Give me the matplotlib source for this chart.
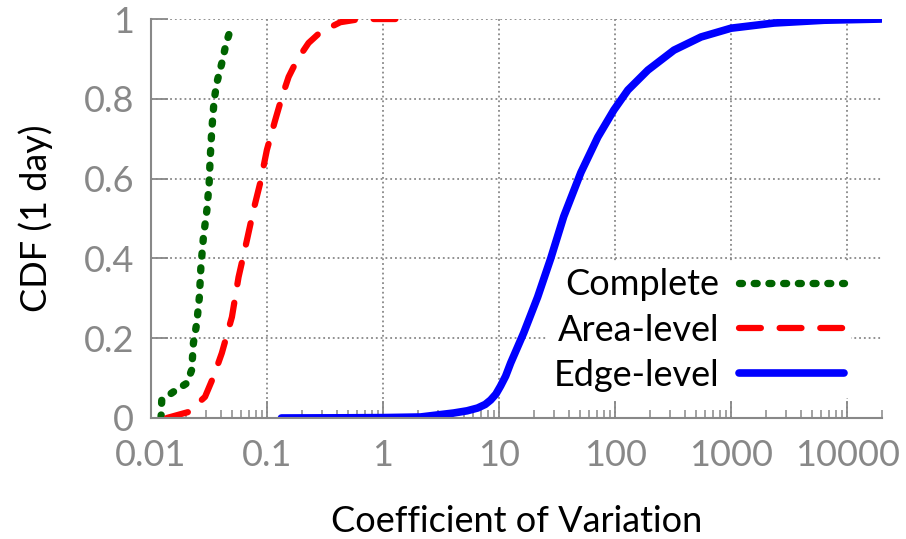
import numpy as np
import matplotlib.pyplot as plt

plt.rcParams['font.family'] = ['Lato', 'DejaVu Sans']

# CDF curves (x = coefficient of variation, y = CDF)
complete_x = [0.0122, 0.01237, 0.0155, 0.0203, 0.0224, 0.0232, 0.0248, 0.0261, 0.0269, 0.0283,
              0.0303, 0.0317, 0.0323, 0.0334, 0.0350, 0.0369, 0.0408, 0.0445, 0.0488]
complete_y = [0.0, 0.045, 0.065, 0.087, 0.12, 0.188, 0.238, 0.303, 0.378, 0.454,
              0.521, 0.589, 0.647, 0.722, 0.797, 0.84, 0.89, 0.94, 0.977]

area_x = [0.01367, 0.0210, 0.0292, 0.0345, 0.0408, 0.0498, 0.0568, 0.0671, 0.0764, 0.0873,
          0.0997, 0.1177, 0.1345, 0.1535, 0.1813, 0.228, 0.288, 0.428, 0.638, 1.51]
area_y = [0.0, 0.015, 0.053, 0.103, 0.163, 0.253, 0.353, 0.446, 0.521, 0.589,
          0.672, 0.747, 0.805, 0.855, 0.897, 0.94, 0.967, 0.992, 1.0, 1.0]

edge_x = [0.133, 0.5, 1.0, 2.10, 4.06, 5.3, 6.53, 7.6, 8.46, 9.4, 10.3, 11.4, 12.6, 16.3,
          21.5, 27.9, 36.1, 50.7, 71.0, 97.7, 129, 192, 322, 551, 1000, 2350, 6350, 19700]
edge_y = [0.0, 0.0005, 0.001, 0.0025, 0.0125, 0.018, 0.025, 0.034, 0.045, 0.06, 0.08, 0.105,
          0.138, 0.213, 0.303, 0.40, 0.505, 0.615, 0.704, 0.772, 0.822, 0.872, 0.922, 0.955,
          0.977, 0.99, 0.997, 1.0]

x_ticks = [0.01, 0.1, 1, 10, 100, 1000, 10000]
x_labels = ['0.01', '0.1', '1', '10', '100', '1000', '10000']
y_ticks = [0, 0.2, 0.4, 0.6, 0.8, 1]
y_labels = ['0', '0.2', '0.4', '0.6', '0.8', '1']

gray = '#888888'

fig = plt.figure(figsize=(9.06, 5.39), dpi=100)
ax = fig.add_axes([0.1667, 0.2245, 0.8068, 0.7402])

ax.plot(complete_x, complete_y, color='#006400', lw=5.3, linestyle=(0, (0.4, 1.6)),
        dash_capstyle='round', label='Complete')
ax.plot(area_x, area_y, color='#ff0000', lw=4.5, linestyle=(0, (3.5, 3.0)),
        dash_capstyle='round', label='Area-level')
ax.plot(edge_x, edge_y, color='#0000ff', lw=5.5, solid_capstyle='round',
        solid_joinstyle='round', label='Edge-level')

ax.set_xscale('log')
ax.set_xlim(0.01, 20000)
ax.set_ylim(0, 1)
ax.set_xticks(x_ticks)
ax.set_xticklabels(x_labels)
ax.set_yticks(y_ticks)
ax.set_yticklabels(y_labels)

for s in ['top', 'right']:
    ax.spines[s].set_visible(False)
for s in ['left', 'bottom']:
    ax.spines[s].set_color(gray)
    ax.spines[s].set_linewidth(1.5)

ax.tick_params(axis='both', which='major', direction='in', length=12, width=1.3,
               color=gray, labelcolor=gray, labelsize=26)
ax.tick_params(axis='x', which='major', pad=15)
ax.tick_params(axis='y', which='major', pad=12)
ax.tick_params(axis='x', which='minor', direction='in', length=6, width=1.1, color=gray)
ax.grid(True, which='major', linestyle=':', color=gray, linewidth=1.3)

ax.set_xlabel('Coefficient of Variation', fontsize=26, labelpad=24)
ax.set_ylabel('CDF (1 day)', fontsize=26, labelpad=22)

leg = ax.legend(loc='center right', bbox_to_anchor=(0.982, 0.22), markerfirst=False,
                fontsize=26, handlelength=2.9, handletextpad=0.55, labelspacing=0.34,
                frameon=True, framealpha=1, facecolor='white', edgecolor='none',
                borderpad=0.2)
leg.get_frame().set_linewidth(0)
leg.set_zorder(1.8)
for t in leg.get_texts():
    t.set_ha('right')

fig.savefig('out.png', dpi=100)
